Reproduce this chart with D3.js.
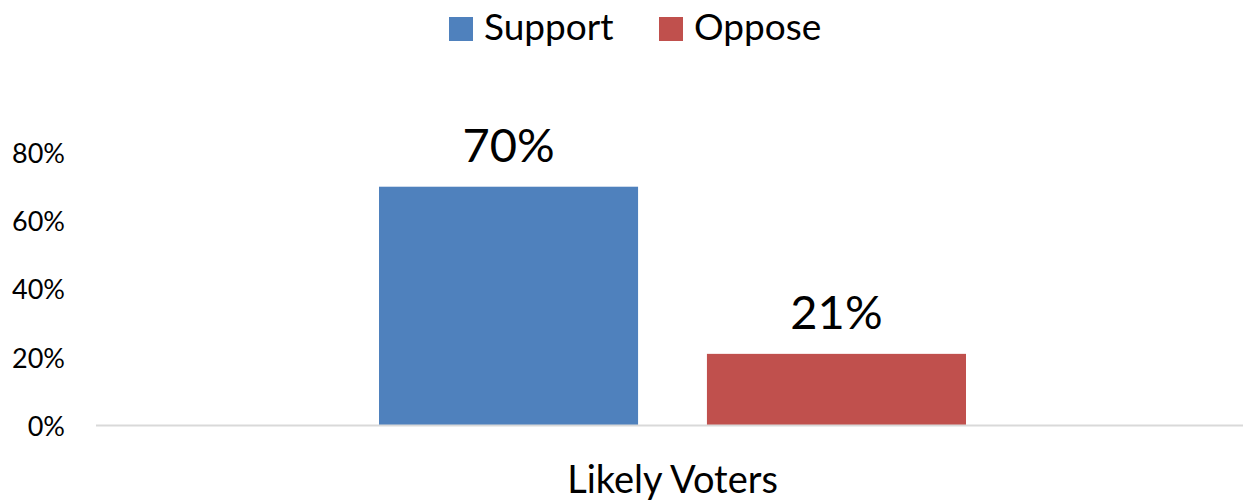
<!DOCTYPE html>
<html>
<head>
<meta charset="utf-8">
<script src="https://cdn.jsdelivr.net/npm/d3@7"></script>
<style>
  body { margin: 0; background: #fff; }
  text { font-family: Lato, "Open Sans", sans-serif; fill: #000; }
</style>
</head>
<body>
<script>
// chart data
var categories = ["Likely Voters"];
var seriesNames = ["Support", "Oppose"];
var seriesValues = [0.70, 0.21];
var seriesColors = ["#4F81BD", "#C0504D"];
var yTicks = [0, 0.2, 0.4, 0.6, 0.8];

var w = 1244, h = 500;

var svg = d3.select("body").append("svg")
    .attr("width", w)
    .attr("height", h);

// scales
var y = d3.scaleLinear()
    .domain([0, 0.8])
    .range([425.5, 152.6]);

var x0 = d3.scaleBand()
    .domain(categories)
    .range([99, 1246])
    .paddingOuter(0.477)
    .paddingInner(0);

var x1 = d3.scaleBand()
    .domain(seriesNames)
    .range([0, x0.bandwidth()])
    .paddingInner(0.21)
    .paddingOuter(0);

var fmt = d3.format(".0%");

// y axis labels (no line, no ticks)
var yAxis = d3.axisLeft(y)
    .tickValues(yTicks)
    .tickFormat(fmt)
    .tickSize(0)
    .tickPadding(0);

var yg = svg.append("g")
    .attr("class", "y axis")
    .attr("transform", "translate(65,0)")
    .call(yAxis);
yg.select(".domain").remove();
yg.selectAll("text")
    .style("font-size", "27px")
    .style("font-family", "Lato, sans-serif")
    .attr("fill", "#000")
    .attr("dy", "0.36em");

// bars
var groups = svg.selectAll(".cat")
    .data(categories)
    .enter()
    .append("g")
    .attr("class", "cat")
    .attr("transform", function(d){ return "translate(" + x0(d) + ",0)"; });

var bars = groups.selectAll("rect")
    .data(seriesNames.map(function(s, i){ return {name: s, value: seriesValues[i], color: seriesColors[i]}; }))
    .enter()
    .append("rect")
    .attr("x", function(d){ return x1(d.name); })
    .attr("y", function(d){ return y(d.value); })
    .attr("width", x1.bandwidth())
    .attr("height", function(d){ return y(0) - y(d.value); })
    .style("fill", function(d){ return d.color; });

// data labels
groups.selectAll(".val")
    .data(seriesNames.map(function(s, i){ return {name: s, value: seriesValues[i]}; }))
    .enter()
    .append("text")
    .attr("class", "val")
    .attr("text-anchor", "middle")
    .attr("x", function(d){ return x1(d.name) + x1.bandwidth() / 2; })
    .attr("y", function(d){ return y(d.value) - 25; })
    .style("font-size", "47px")
    .text(function(d){ return fmt(d.value); });

// baseline
svg.append("line")
    .attr("x1", 96)
    .attr("x2", 1243)
    .attr("y1", y(0))
    .attr("y2", y(0))
    .style("stroke", "#d9d9d9")
    .style("stroke-width", 2);

// category axis label
var xAxis = d3.axisBottom(x0).tickSize(0).tickPadding(0);
var xg = svg.append("g")
    .attr("transform", "translate(0,493)")
    .call(xAxis);
xg.select(".domain").remove();
xg.selectAll("text")
    .attr("dy", 0)
    .attr("fill", "#000")
    .style("font-size", "38px")
    .style("font-family", "Lato, sans-serif");

// legend
var legendX = [449, 659];
var legend = svg.selectAll(".legend")
    .data(seriesNames)
    .enter()
    .append("g")
    .attr("class", "legend")
    .attr("transform", function(d, i){ return "translate(" + legendX[i] + ",0)"; });

legend.append("rect")
    .attr("x", 0)
    .attr("y", 17)
    .attr("width", 24)
    .attr("height", 24)
    .style("fill", function(d, i){ return seriesColors[i]; });

legend.append("text")
    .attr("x", 35)
    .attr("y", 40)
    .style("font-size", "37px")
    .text(function(d){ return d; });
</script>
</body>
</html>
